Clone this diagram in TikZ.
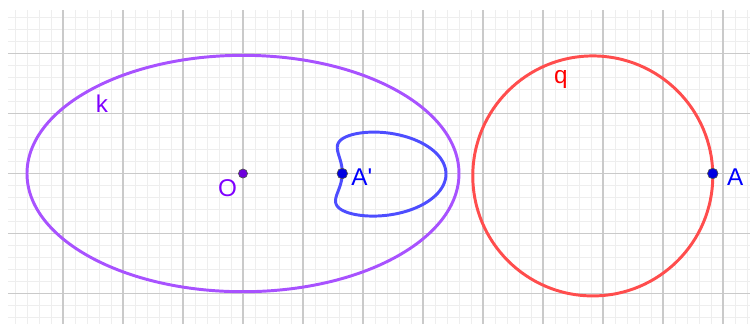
\documentclass[tikz,border=0pt]{standalone}
\usepackage{fontspec}
\setmainfont{Liberation Sans}
\usepackage{tikz}
\usetikzlibrary{positioning,calc}
\definecolor{gmaj}{RGB}{202,202,202}
\definecolor{gmin}{RGB}{238,238,238}
\definecolor{kpur}{RGB}{168,82,255}
\definecolor{kvio}{RGB}{127,0,255}
\definecolor{ppur}{RGB}{110,0,220}
\definecolor{qred}{RGB}{255,77,77}
\definecolor{qtxt}{RGB}{255,0,0}
\definecolor{ibl}{RGB}{77,77,255}
\definecolor{abl}{RGB}{0,0,255}
\definecolor{pbl}{RGB}{0,0,225}
\tikzset{
  minorgrid/.style={gmin,line width=0.4pt,step=0.2},
  majorgrid/.style={gmaj,line width=0.5pt,step=1},
  curve/.style={line width=1.4pt,color=#1},
  pt/.style={circle,draw=black!70,line width=0.3pt,fill=#1,inner sep=0pt,minimum size=5pt},
  lbl/.style={font=\fontsize{11.5}{13}\selectfont,text=#1,inner sep=0pt,anchor=base west},
}
\def\ea{3.6}
\def\eb{1.97}
\def\qc{5.83}
\def\qy{-0.04}
\def\qr{2}

\begin{document}
\begin{tikzpicture}
    \useasboundingbox (-4.05,-2.492) rectangle (8.517,2.892);

    % ── Grid ──────────────────────────────────────────────────────────────────
    \draw[minorgrid] (-3.92,-2.5) grid (8.45,2.73);
    \draw[majorgrid] (-3.92,-2.5) grid (8.45,2.73);

    % ── Ellipse k and circle q ────────────────────────────────────────────────
    \draw[curve=kpur] (0,0) ellipse [x radius=\ea, y radius=\eb];
    \draw[curve=qred] (\qc,\qy) circle [radius=\qr];

    % ── Image of q under inversion in k ───────────────────────────────────────
    \draw[curve=ibl] plot[domain=0:360,samples=240,smooth,variable=\t]
      ({(\qc+\qr*cos(\t))/((\qc+\qr*cos(\t))^2/(\ea*\ea)+(\qy+\qr*sin(\t))^2/(\eb*\eb))},
       {(\qy+\qr*sin(\t))/((\qc+\qr*cos(\t))^2/(\ea*\ea)+(\qy+\qr*sin(\t))^2/(\eb*\eb))});

    % ── Points ────────────────────────────────────────────────────────────────
    \node[pt=ppur,minimum size=4.3pt] (O) at (0,0) {};
    \node[pt=pbl] (Ap) at (1.655,0) {};
    \node[pt=pbl] (A) at (7.83,0) {};

    % ── Labels ────────────────────────────────────────────────────────────────
    \node[lbl=kvio] (lk) at (-2.46,1.01) {k};
    \node[lbl=kvio] (lO) at (-0.42,-0.385) {O};
    \node[lbl=qtxt] (lq) at (5.18,1.50) {q};
    \node[lbl=abl] (lAp) at (1.80,-0.205) {A\textquotesingle};
    \node[lbl=abl] (lA) at (8.06,-0.195) {A};

\end{tikzpicture}
\end{document}
